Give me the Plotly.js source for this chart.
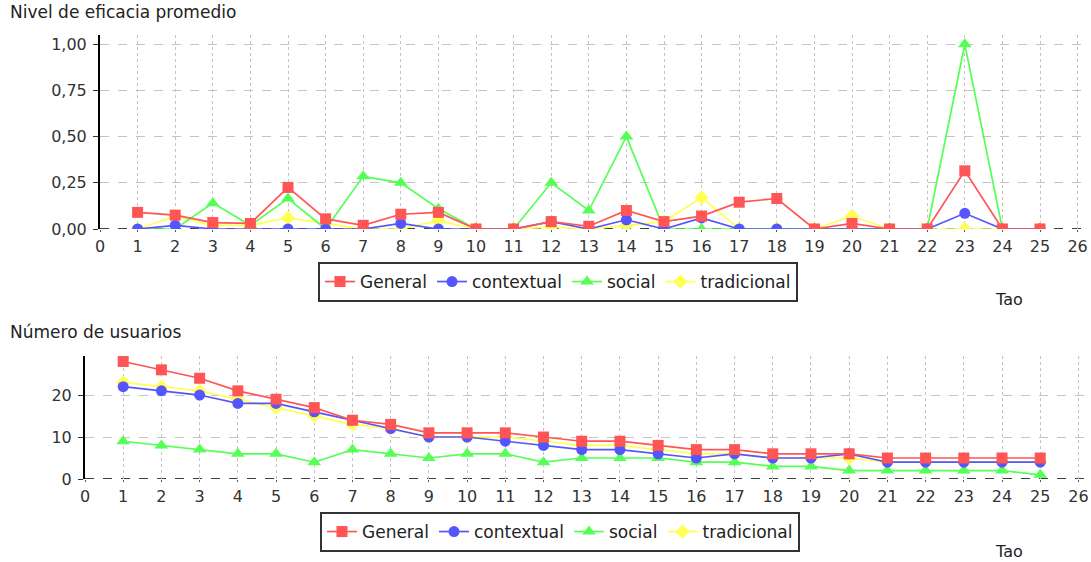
<!DOCTYPE html>
<html>
<head>
<meta charset="utf-8">
<script src="https://cdn.plot.ly/plotly-3.0.1.min.js"></script>
<style>html,body{margin:0;padding:0;background:#fff;}#chart{width:1091px;height:562px;}</style>
</head>
<body>
<div id="chart"></div>
<script>
// Tao values (x)
const tao = [1,2,3,4,5,6,7,8,9,10,11,12,13,14,15,16,17,18,19,20,21,22,23,24,25];
const seriesNames = ["General", "contextual", "social", "tradicional"];

// Nivel de eficacia promedio
const efGeneral     = [0.09,0.075,0.035,0.03,0.225,0.055,0.02,0.08,0.09,0,0,0.04,0.015,0.10,0.04,0.07,0.145,0.165,0,0.03,0,0,0.315,0,0];
const efContextual  = [0,0.02,0,0,0,0,0,0.03,0,0,0,0.04,0,0.05,0,0.06,0,0,0,0,0,0,0.085,0,0];
const efSocial      = [0,0,0.14,0.02,0.165,0,0.285,0.25,0.11,0,0,0.25,0.10,0.50,0,0,0,0,0,0,0,0,1.0,0,0];
const efTradicional = [0,0.07,0.02,0.02,0.06,0.03,0,0,0.045,0,0,0.01,0,0.02,0.04,0.17,0,0,0,0.07,0,0,0,0,0];

// Número de usuarios
const nuGeneral     = [28,26,24,21,19,17,14,13,11,11,11,10,9,9,8,7,7,6,6,6,5,5,5,5,5];
const nuContextual  = [22,21,20,18,18,16,14,12,10,10,9,8,7,7,6,5,6,5,5,6,4,4,4,4,4];
const nuSocial      = [9,8,7,6,6,4,7,6,5,6,6,4,5,5,5,4,4,3,3,2,2,2,2,2,1];
const nuTradicional = [23,22,21,19,17,15,13,12,10,10,10,9,8,8,7,6,6,5,5,5,4,4,4,4,4];

const colors = ["#ff5555", "#5555ff", "#55ff55", "#ffff55"];
const symbols = ["square", "circle", "triangle-up", "diamond"];
const sizes = [11, 11, 12, 11];

const efSeries = [efGeneral, efContextual, efSocial, efTradicional];
const nuSeries = [nuGeneral, nuContextual, nuSocial, nuTradicional];

const FONT = "DejaVu Sans, Verdana, sans-serif";
const traces = [];
// draw last series first so "General" ends up on top, keep legend order via legendrank
for (let i = 3; i >= 0; i--) {
  traces.push({
    x: tao, y: efSeries[i], name: seriesNames[i], type: "scatter", mode: "lines+markers",
    xaxis: "x", yaxis: "y", legend: "legend", legendrank: i + 1,
    line: {color: colors[i], width: 1.7},
    marker: {color: colors[i], symbol: symbols[i], size: sizes[i]}
  });
}
for (let i = 3; i >= 0; i--) {
  traces.push({
    x: tao, y: nuSeries[i], name: seriesNames[i], type: "scatter", mode: "lines+markers",
    xaxis: "x2", yaxis: "y2", legend: "legend2", legendrank: i + 1,
    line: {color: colors[i], width: 1.7},
    marker: {color: colors[i], symbol: symbols[i], size: sizes[i]}
  });
}

const W = 1091, H = 562;
const px = v => v / W, py = v => 1 - v / H;
const tickFont = {family: FONT, size: 16, color: "#333"};

const xBase = {
  range: [0, 26.25], dtick: 1, tick0: 0, showgrid: true, gridcolor: "#c4c4c4", griddash: "dot",
  zeroline: false, showline: false, ticks: "outside", ticklen: 2, tickcolor: "#555",
  tickfont: tickFont, ticklabelstandoff: 1
};

const legendBase = {
  orientation: "h", xanchor: "left", yanchor: "top",
  bordercolor: "#333", borderwidth: 2, bgcolor: "#fff",
  font: {family: FONT, size: 17, color: "#222"},
  itemwidth: 30, tracegroupgap: 0, traceorder: "normal"
};

const layout = {
  width: W, height: H, margin: {l: 0, r: 0, t: 0, b: 0},
  paper_bgcolor: "#fff", plot_bgcolor: "#fff",
  separators: ",.",
  font: {family: FONT, color: "#333"},
  xaxis: Object.assign({}, xBase, {domain: [px(100), px(1087)], anchor: "y"}),
  yaxis: {
    domain: [py(229), py(35)], anchor: "x", range: [0, 1.05], dtick: 0.25, tickformat: ".2f",
    showgrid: true, gridcolor: "#c4c4c4", griddash: "dash", zeroline: false,
    showline: true, linecolor: "#000", linewidth: 2, ticks: "outside", ticklen: 5, tickcolor: "#333",
    tickfont: tickFont, ticklabelstandoff: 3
  },
  xaxis2: Object.assign({}, xBase, {domain: [px(85), px(1088)], anchor: "y2"}),
  yaxis2: {
    domain: [py(479), py(356)], anchor: "x2", range: [0, 29.3], dtick: 10,
    showgrid: true, gridcolor: "#c4c4c4", griddash: "dash", zeroline: false,
    showline: true, linecolor: "#000", linewidth: 2, ticks: "outside", ticklen: 5, tickcolor: "#333",
    tickfont: tickFont, ticklabelstandoff: 3
  },
  legend: Object.assign({}, legendBase, {x: px(318), y: py(262)}),
  legend2: Object.assign({}, legendBase, {x: px(320), y: py(512)}),
  shapes: [
    {type: "line", xref: "x", yref: "y", x0: 0, x1: 26.25, y0: 0, y1: 0, layer: "below",
     line: {color: "#000", width: 1.5, dash: "dash"}},
    {type: "line", xref: "x2", yref: "y2", x0: 0, x1: 26.25, y0: 0, y1: 0, layer: "below",
     line: {color: "#000", width: 1.5, dash: "dash"}}
  ],
  annotations: [
    {text: "Nivel de eficacia promedio", xref: "paper", yref: "paper", x: px(8), y: py(12),
     xanchor: "left", yanchor: "middle", showarrow: false,
     font: {family: FONT, size: 17, color: "#222"}},
    {text: "Número de usuarios", xref: "paper", yref: "paper", x: px(8), y: py(332),
     xanchor: "left", yanchor: "middle", showarrow: false,
     font: {family: FONT, size: 17, color: "#222"}},
    {text: "Tao", xref: "paper", yref: "paper", x: px(1009), y: py(300),
     xanchor: "center", yanchor: "middle", showarrow: false,
     font: {family: FONT, size: 16, color: "#222"}},
    {text: "Tao", xref: "paper", yref: "paper", x: px(1009), y: py(551),
     xanchor: "center", yanchor: "middle", showarrow: false,
     font: {family: FONT, size: 16, color: "#222"}}
  ],
  showlegend: true
};

Plotly.newPlot("chart", traces, layout, {staticPlot: true, displayModeBar: false});
</script>
</body>
</html>
